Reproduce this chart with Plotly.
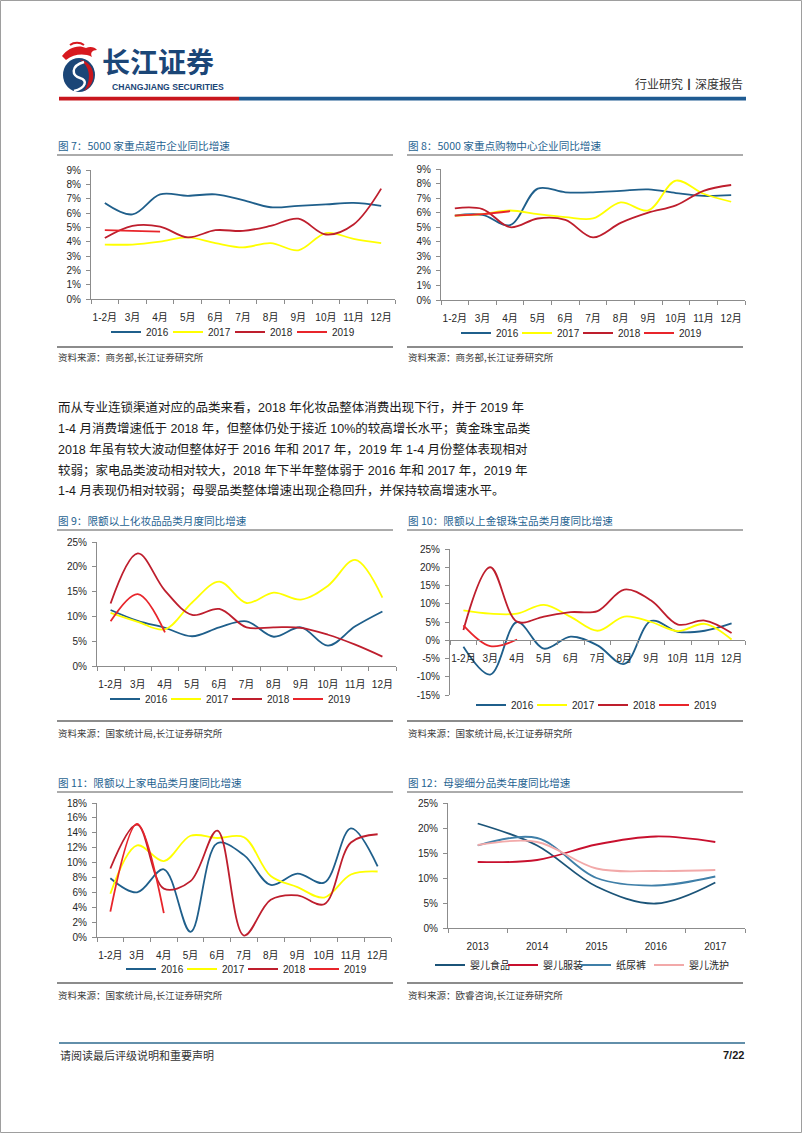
import plotly.graph_objects as go

W, H = 802, 1133

# ---------------- data ----------------
months = ["1-2月", "3月", "4月", "5月", "6月", "7月", "8月", "9月", "10月", "11月", "12月"]
years = ["2016", "2017", "2018", "2019"]

# 图7 5000家重点超市企业同比增速 (%)
c7_2016 = [6.7, 5.9, 7.3, 7.2, 7.3, 6.9, 6.4, 6.5, 6.6, 6.7, 6.5]
c7_2017 = [3.8, 3.8, 4.0, 4.3, 3.9, 3.6, 3.9, 3.4, 4.6, 4.2, 3.9]
c7_2018 = [4.25, 5.1, 5.05, 4.3, 4.8, 4.75, 5.1, 5.6, 4.5, 5.2, 7.7]
c7_2019 = [4.8, 4.75, 4.7]

# 图8 5000家重点购物中心企业同比增速 (%)
c8_2016 = [5.8, 5.85, 5.15, 7.65, 7.4, 7.4, 7.5, 7.6, 7.35, 7.15, 7.2]
c8_2017 = [5.8, 5.9, 6.15, 5.9, 5.7, 5.6, 6.7, 6.15, 8.2, 7.3, 6.75]
c8_2018 = [6.3, 6.25, 5.0, 5.6, 5.5, 4.3, 5.3, 6.0, 6.5, 7.5, 7.9]
c8_2019 = [5.8, 5.9, 6.1]

# 图9 限额以上化妆品品类月度同比增速 (%)
c9_2016 = [11.3, 9.1, 7.7, 6.0, 7.8, 9.0, 5.9, 7.8, 4.1, 8.0, 11.0]
c9_2017 = [10.7, 8.9, 7.4, 12.8, 17.0, 12.7, 14.8, 13.4, 16.2, 21.4, 13.8]
c9_2018 = [12.6, 22.7, 15.2, 10.3, 11.5, 7.8, 7.8, 7.7, 6.3, 4.3, 1.9]
c9_2019 = [9.0, 14.5, 6.8]

# 图10 限额以上金银珠宝品类月度同比增速 (%)
c10_2016 = [-1.8, -9.4, 5.0, -2.3, 1.0, -1.4, -6.5, 5.3, 2.3, 2.6, 4.6]
c10_2017 = [8.2, 7.3, 7.3, 9.7, 6.4, 2.6, 6.5, 5.0, 2.5, 4.5, 0.2]
c10_2018 = [2.8, 20.0, 5.1, 6.5, 7.7, 8.0, 13.9, 10.9, 4.3, 5.4, 2.0]
c10_2019 = [4.1, -1.6, 0.2]

# 图11 限额以上家电品类月度同比增速 (%)
c11_2016 = [7.9, 6.0, 9.1, 0.7, 12.6, 11.0, 7.0, 8.5, 7.3, 14.6, 9.5]
c11_2017 = [5.8, 12.3, 10.2, 13.6, 13.3, 13.4, 8.2, 6.7, 5.3, 8.4, 8.8]
c11_2018 = [9.2, 15.1, 6.5, 7.5, 14.3, 0.2, 5.0, 5.6, 4.4, 12.7, 13.8]
c11_2019 = [3.4, 15.2, 3.2]

# 图12 母婴细分品类年度同比增速 (%)
c12_years = ["2013", "2014", "2015", "2016", "2017"]
c12_names = ["婴儿食品", "婴儿服装", "纸尿裤", "婴儿洗护"]
c12_food = [20.9, 16.5, 8.3, 4.9, 9.1]
c12_cloth = [13.2, 13.6, 16.7, 18.3, 17.2]
c12_diaper = [16.5, 18.0, 10.0, 8.5, 10.3]
c12_care = [16.6, 17.2, 11.9, 11.4, 11.6]

# ---------------- style ----------------
year_colors = {"2016": "#1F5F8B", "2017": "#FFFF00", "2018": "#BE1E2D", "2019": "#E8252B"}
c12_colors = ["#1B5478", "#C8102E", "#3F7FA8", "#F2A9A9"]
FONT = "Liberation Sans, Arial, Noto Sans CJK SC, sans-serif"
CJK = "Noto Sans CJK SC, Liberation Sans, sans-serif"
TITLE_COLOR = "#1F6391"
AX_COLOR = "#8C8C8C"
TXT = "#262626"


def px(x):
    return x / W


def py(y):
    return 1 - y / H


fig = go.Figure()
layout = dict(
    width=W, height=H, margin=dict(l=0, r=0, t=0, b=0, autoexpand=False),
    paper_bgcolor="white", plot_bgcolor="white", showlegend=True,
    font=dict(family=FONT, size=10, color=TXT),
)
annotations = []
shapes = []

# sp = pixel distance between consecutive legend entries
charts = [
    dict(k=1, box=(91, 395, 170, 299), yr=(0, 9), dt=1, cats=months,
         series=[c7_2016, c7_2017, c7_2018, c7_2019], names=years,
         colors=[year_colors[y] for y in years], leg=(106, 332), sp=63, zero=None),
    dict(k=2, box=(441, 745, 169, 300), yr=(0, 9), dt=1, cats=months,
         series=[c8_2016, c8_2017, c8_2018, c8_2019], names=years,
         colors=[year_colors[y] for y in years], leg=(456, 333), sp=62, zero=None),
    dict(k=3, box=(97, 396, 542, 666), yr=(0, 25), dt=5, cats=months,
         series=[c9_2016, c9_2017, c9_2018, c9_2019], names=years,
         colors=[year_colors[y] for y in years], leg=(105, 699), sp=62, zero=None),
    dict(k=4, box=(450, 745, 549, 695), yr=(-15, 25), dt=5, cats=months,
         series=[c10_2016, c10_2017, c10_2018, c10_2019], names=years,
         colors=[year_colors[y] for y in years], leg=(471, 705), sp=62, zero=0),
    dict(k=5, box=(97, 391, 803, 937), yr=(0, 18), dt=2, cats=months,
         series=[c11_2016, c11_2017, c11_2018, c11_2019], names=years,
         colors=[year_colors[y] for y in years], leg=(121, 969), sp=62, zero=None),
    dict(k=6, box=(448, 745, 803, 928), yr=(0, 25), dt=5, cats=c12_years,
         series=[c12_food, c12_cloth, c12_diaper, c12_care], names=c12_names,
         colors=c12_colors, leg=(430, 965), sp=74, zero=None),
]

for c in charts:
    k = c["k"]
    sfx = "" if k == 1 else str(k)
    x0, x1, y0, y1 = c["box"]
    lo, hi = c["yr"]
    legname = "legend" + sfx
    for vals, nm, col in zip(c["series"], c["names"], c["colors"]):
        fig.add_trace(go.Scatter(
            x=c["cats"][:len(vals)], y=vals, mode="lines", name=nm,
            line=dict(color=col, width=1.8, shape="spline", smoothing=1.0),
            xaxis="x" + sfx, yaxis="y" + sfx, legend=legname, hoverinfo="skip",
        ))
    # invisible spacer entry so the last legend label is not clipped
    fig.add_trace(go.Scatter(
        x=[c["cats"][0]], y=[None], mode="lines", name=" ",
        line=dict(color="rgba(0,0,0,0)", width=0),
        xaxis="x" + sfx, yaxis="y" + sfx, legend=legname, hoverinfo="skip",
    ))
    xa = dict(
        domain=[px(x0), px(x1)], type="category", categoryorder="array",
        categoryarray=c["cats"], range=[-0.5, len(c["cats"]) - 0.5],
        showline=True, linecolor=AX_COLOR, linewidth=1, showgrid=False, zeroline=False,
        ticks="outside", tickson="boundaries", ticklen=4, tickcolor=AX_COLOR,
        tickfont=dict(family=FONT, size=10, color=TXT), ticklabelstandoff=9,
        tickangle=0, automargin=False, fixedrange=True,
    )
    if c["zero"] is not None:
        yz = y0 + (hi - c["zero"]) / (hi - lo) * (y1 - y0)
        xa.update(anchor="free", position=py(yz))
    else:
        xa.update(anchor="y" + sfx)
    tv = list(range(lo, hi + 1, c["dt"]))
    ya = dict(
        domain=[py(y1), py(y0)], anchor="x" + sfx, range=[lo, hi],
        tickmode="array", tickvals=tv, ticktext=["%d%%" % v for v in tv],
        showline=True, linecolor=AX_COLOR, linewidth=1, showgrid=False, zeroline=False,
        ticks="outside", ticklen=4, tickcolor=AX_COLOR,
        tickfont=dict(family=FONT, size=10, color=TXT), ticklabelstandoff=3,
        automargin=False, fixedrange=True,
    )
    layout["xaxis" + sfx] = xa
    layout["yaxis" + sfx] = ya
    lx, ly = c["leg"]
    layout[legname] = dict(
        orientation="h", x=px(lx), y=py(ly), xanchor="left", yanchor="middle",
        font=dict(family=CJK if k == 6 else FONT, size=10, color=TXT),
        bgcolor="rgba(0,0,0,0)", borderwidth=0, itemwidth=30,
        entrywidth=c["sp"] - 46, entrywidthmode="pixels",
        itemclick=False, itemdoubleclick=False,
    )


def text(x, y, s, size=10, color=TXT, anchor="left", family=CJK, yanchor="middle"):
    annotations.append(dict(
        x=px(x), y=py(y), xref="paper", yref="paper", text=s, showarrow=False,
        xanchor=anchor, yanchor=yanchor, font=dict(family=family, size=size, color=color),
        borderpad=0,
    ))


def hline(x0, x1, y, color, width):
    shapes.append(dict(type="line", xref="paper", yref="paper", x0=px(x0), x1=px(x1),
                       y0=py(y), y1=py(y), line=dict(color=color, width=width)))


# chart titles, title underlines, source lines and source texts
titles = [
    (57, 145, "图 7：5000 家重点超市企业同比增速"),
    (407, 145, "图 8：5000 家重点购物中心企业同比增速"),
    (57, 520, "图 9：限额以上化妆品品类月度同比增速"),
    (407, 520, "图 10：限额以上金银珠宝品类月度同比增速"),
    (57, 782, "图 11：限额以上家电品类月度同比增速"),
    (407, 782, "图 12：母婴细分品类年度同比增速"),
]
for x, y, s in titles:
    text(x, y, s, size=10.6, color=TITLE_COLOR)
for y in (155, 530, 792):
    hline(57, 393, y, "#595959", 1)
    hline(407, 743, y, "#595959", 1)
for y in (347, 721, 983):
    hline(57, 393, y, "#8C8C8C", 2)
    hline(407, 743, y, "#8C8C8C", 2)
sources = [
    (57, 357, "资料来源：商务部,长江证券研究所"),
    (407, 357, "资料来源：商务部,长江证券研究所"),
    (57, 733, "资料来源：国家统计局,长江证券研究所"),
    (407, 733, "资料来源：国家统计局,长江证券研究所"),
    (57, 995, "资料来源：国家统计局,长江证券研究所"),
    (407, 995, "资料来源：欧睿咨询,长江证券研究所"),
]
for x, y, s in sources:
    text(x, y, s, size=9.5, color="#404040")

# paragraph
para = [
    "而从专业连锁渠道对应的品类来看，2018 年化妆品整体消费出现下行，并于 2019 年",
    "1-4 月消费增速低于 2018 年，但整体仍处于接近 10%的较高增长水平；黄金珠宝品类",
    "2018 年虽有较大波动但整体好于 2016 年和 2017 年，2019 年 1-4 月份整体表现相对",
    "较弱；家电品类波动相对较大，2018 年下半年整体弱于 2016 年和 2017 年，2019 年",
    "1-4 月表现仍相对较弱；母婴品类整体增速出现企稳回升，并保持较高增速水平。",
]
for i, s in enumerate(para):
    text(57, 408 + i * 20.7, s, size=12.5, color="#1A1A1A",
         family="Liberation Sans, Noto Sans CJK SC, sans-serif")

# header
shapes.append(dict(type="rect", xref="paper", yref="paper", x0=px(59), x1=px(239),
                   y0=py(100.5), y1=py(96.8), line=dict(width=0), fillcolor="#C8161D"))
shapes.append(dict(type="rect", xref="paper", yref="paper", x0=px(239), x1=px(746),
                   y0=py(100.5), y1=py(96.8), line=dict(width=0), fillcolor="#1F5B92"))
text(101, 61.5, "<b>长江证券</b>", size=28, color="#1B4677", family=CJK)
text(168, 86.5, "<b>CHANGJIANG SECURITIES</b>", size=8.6, color="#1B4677",
     anchor="center", family="Liberation Sans, Arial, sans-serif")
text(744, 83, "行业研究<b>丨</b>深度报告", size=12, color="#333333", anchor="right")


def path(cmds):
    out = []
    for c in cmds:
        if isinstance(c, str):
            out.append(c)
        else:
            out.append("%.5f,%.5f" % (px(c[0]), py(c[1])))
    return " ".join(out)


# logo (approximate emblem)
shapes.append(dict(type="circle", xref="paper", yref="paper", x0=px(63), x1=px(95),
                   y0=py(92), y1=py(58), line=dict(width=0), fillcolor="#1B4677"))
shapes.append(dict(type="path", xref="paper", yref="paper",
                   path=path(["M", (80, 60), "C", (96, 62), (98, 84), (84, 91),
                              "C", (92, 80), (90, 66), (80, 60), "Z"]),
                   line=dict(width=0), fillcolor="#C8161D"))
shapes.append(dict(type="path", xref="paper", yref="paper",
                   path=path(["M", (84, 62), "C", (70, 66), (72, 76), (80, 78),
                              "C", (88, 80), (86, 88), (74, 91)]),
                   line=dict(color="white", width=2.5)))
shapes.append(dict(type="path", xref="paper", yref="paper",
                   path=path(["M", (62, 56), "C", (68, 48), (78, 44), (86, 48),
                              "C", (90, 46), (95, 47), (97, 50),
                              "C", (92, 50), (90, 53), (92, 57),
                              "C", (84, 53), (74, 54), (66, 60), "Z"]),
                   line=dict(width=0), fillcolor="#D7191F"))
shapes.append(dict(type="path", xref="paper", yref="paper",
                   path=path(["M", (70, 45), "C", (74, 42), (80, 42), (84, 45)]),
                   line=dict(color="#D7191F", width=2)))

# footer
hline(59, 745, 1043, "#2E6A8E", 1.5)
text(59, 1055, "请阅读最后评级说明和重要声明", size=11, color="#333333")
text(745, 1055, "<b>7/22</b>", size=11, color="#1A1A1A", anchor="right",
     family="Liberation Sans, Arial, sans-serif")

# page border
shapes.append(dict(type="rect", xref="paper", yref="paper", x0=px(0.5), x1=px(801.5),
                   y0=py(1132.5), y1=py(0.5), line=dict(color="#9E9E9E", width=1)))

layout["annotations"] = annotations
layout["shapes"] = shapes
fig.update_layout(**layout)
fig.write_html(
    "out.html",
    config={"displayModeBar": False, "staticPlot": True},
    post_script="document.body.style.margin='0';document.body.style.padding='0';"
                "document.body.style.overflow='hidden';",
)
